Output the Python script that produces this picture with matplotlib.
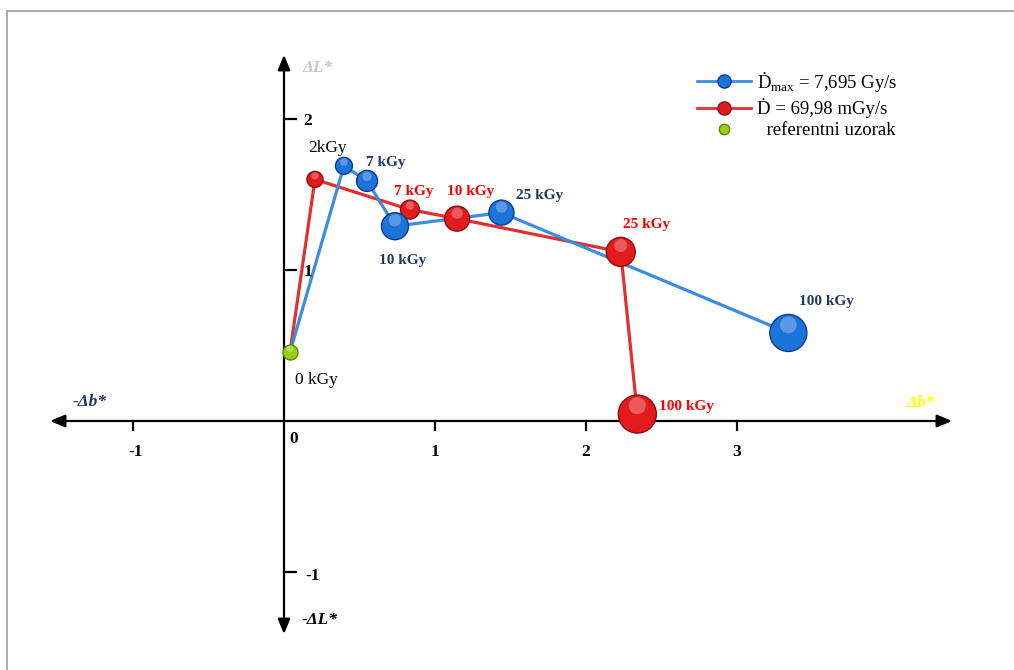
import matplotlib
matplotlib.use("Agg")
import matplotlib.pyplot as plt
from matplotlib.lines import Line2D
import matplotlib.transforms as mtransforms

# ---------------- data ----------------
ref_point = (0.04, 0.457)          # referentni uzorak (0 kGy)

blue_doses = ["2kGy", "7 kGy", "10 kGy", "25 kGy", "100 kGy"]
blue_db = [0.397, 0.55, 0.735, 1.44, 3.34]
blue_dL = [1.69, 1.59, 1.29, 1.38, 0.583]

red_doses = ["7 kGy", "10 kGy", "25 kGy", "100 kGy"]
red_db = [0.205, 0.834, 1.146, 2.23, 2.34]
red_dL = [1.60, 1.40, 1.34, 1.12, 0.046]

x_ticks = [-1, 0, 1, 2, 3]
y_ticks = [-1, 1, 2]

legend_labels = [r"Ḋ$_{\mathrm{max}}$ = 7,695 Gy/s", "Ḋ = 69,98 mGy/s", "  referentni uzorak"]

# ---------------- style ----------------
SERIF = ["Liberation Serif", "DejaVu Serif"]
plt.rcParams["font.family"] = SERIF
plt.rcParams["mathtext.fontset"] = "custom"
plt.rcParams["mathtext.rm"] = "Liberation Serif"

BLUE_LINE = "#3b8de0"
BLUE_FACE = "#1c74d9"
BLUE_EDGE = "#0b3d8f"
RED_LINE = "#e0302f"
RED_FACE = "#e31b1c"
RED_EDGE = "#8f0c0c"
GREEN_FACE = "#9acc1a"
GREEN_EDGE = "#5b8a00"
NAVY = "#1f3864"

blue_diam = [17, 21, 27, 25, 37]      # px
red_diam = [16, 19, 25, 29, 38]       # px
green_diam = 15

W, H = 1014, 670
fig = plt.figure(figsize=(W / 100, H / 100), dpi=100)
ax = fig.add_axes([0, 0, 1, 1])
PX = 151.0
x0, y0 = 284.0, 421.0
ax.set_xlim(-x0 / PX, (W - x0) / PX)
ax.set_ylim((y0 - H) / PX, y0 / PX)
ax.axis("off")

# figure border (top and left, light grey)
fig.add_artist(Line2D([7 / W, 1.0], [1 - 11 / H, 1 - 11 / H], color="#a6a6a6", lw=1.3))
fig.add_artist(Line2D([7 / W, 7 / W], [0, 1 - 11 / H], color="#a6a6a6", lw=1.3))

# axes with arrows
arrow_kw = dict(arrowstyle="<|-|>,head_length=0.9,head_width=0.38", color="black", lw=1.6,
                shrinkA=0, shrinkB=0)
ax.annotate("", xy=((952 - x0) / PX, 0), xytext=((50 - x0) / PX, 0), arrowprops=arrow_kw)
ax.annotate("", xy=(0, (y0 - 55) / PX), xytext=(0, (y0 - 634) / PX), arrowprops=arrow_kw)

# ticks
tick_len = 9 / PX
for xv in x_ticks:
    if xv == 0:
        continue
    ax.plot([xv, xv], [0, -tick_len], color="black", lw=1.6)
    ax.annotate(str(xv), (xv, 0), xytext=(3 if xv < 0 else 0, -31), textcoords="offset pixels",
                ha="center", va="center", fontsize=12.5, fontweight="bold")
ax.annotate("0", (0, 0), xytext=(10, -18), textcoords="offset pixels",
            ha="center", va="center", fontsize=12.5, fontweight="bold")
for yv in y_ticks:
    ax.plot([0, 12 / PX], [yv, yv], color="black", lw=1.6)
    ax.annotate(str(yv), (0, yv), xytext=(24 if yv > 0 else 29, -2 if yv > 0 else -4),
                textcoords="offset pixels",
                ha="center", va="center", fontsize=12.5, fontweight="bold")

# axis names
ax.text((318 - x0) / PX, (y0 - 68) / PX, "ΔL*", color="#c8c8c8", fontsize=12.5,
        fontweight="bold", style="italic", ha="center", va="center")
ax.text((320 - x0) / PX, (y0 - 620) / PX, "-ΔL*", color="black", fontsize=12.5,
        fontweight="bold", style="italic", ha="center", va="center")
ax.text((90 - x0) / PX, (y0 - 402) / PX, "-Δb*", color=NAVY, fontsize=12.5,
        fontweight="bold", style="italic", ha="center", va="center")
ax.text((921 - x0) / PX, (y0 - 403) / PX, "Δb*", color="#ffff00", fontsize=12.5,
        fontweight="bold", style="italic", ha="center", va="center")

# lines
bx = [ref_point[0]] + blue_db
by = [ref_point[1]] + blue_dL
rx = [ref_point[0]] + red_db
ry = [ref_point[1]] + red_dL
ax.plot(rx, ry, color=RED_LINE, lw=2.3, zorder=2, solid_capstyle="round")
ax.plot(bx, by, color=BLUE_LINE, lw=2.3, zorder=2, solid_capstyle="round")


def spheres(xs, ys, diams, face, edge, z):
    s = [(d * 0.72) ** 2 for d in diams]
    ax.scatter(xs, ys, s=s, c=face, edgecolors=edge, linewidths=1.0, zorder=z)
    # highlight
    for x, y, d in zip(xs, ys, diams):
        tr = mtransforms.offset_copy(ax.transData, fig=fig, x=0, y=d * 0.22 * 0.72, units="points")
        ax.scatter([x], [y], s=(d * 0.45 * 0.72) ** 2, c="white", alpha=0.28,
                   edgecolors="none", transform=tr, zorder=z + 0.1)


spheres(red_db, red_dL, red_diam, RED_FACE, RED_EDGE, 4)
spheres(blue_db, blue_dL, blue_diam, BLUE_FACE, BLUE_EDGE, 4)
spheres([ref_point[0]], [ref_point[1]], [green_diam], GREEN_FACE, GREEN_EDGE, 5)

# labels
blue_off = [(-16, 18), (19, 18), (8, -34), (38, 17), (38, 31)]
for (x, y, lab, off) in zip(blue_db, blue_dL, blue_doses, blue_off):
    if lab == "2kGy":
        ax.annotate(lab, (x, y), xytext=off, textcoords="offset pixels", ha="center",
                    va="center", fontsize=12.5, color="black")
    else:
        ax.annotate(lab, (x, y), xytext=off, textcoords="offset pixels", ha="center",
                    va="center", fontsize=11, fontweight="bold", color=NAVY)
red_off = [(4, 18), (14, 27), (26, 27), (49, 8)]
for (x, y, lab, off) in zip(red_db[1:], red_dL[1:], red_doses, red_off):
    ax.annotate(lab, (x, y), xytext=off, textcoords="offset pixels", ha="center",
                va="center", fontsize=11, fontweight="bold", color="#ff0000")
ax.annotate("0 kGy", ref_point, xytext=(26, -28), textcoords="offset pixels", ha="center",
            va="center", fontsize=12.5, color="black")

# legend
handles = [
    Line2D([], [], color=BLUE_LINE, lw=2.0, marker="o", markersize=9.5,
           markerfacecolor=BLUE_FACE, markeredgecolor=BLUE_EDGE),
    Line2D([], [], color=RED_LINE, lw=2.0, marker="o", markersize=9.5,
           markerfacecolor=RED_FACE, markeredgecolor=RED_EDGE),
    Line2D([], [], color="none", lw=0, marker="o", markersize=7.5,
           markerfacecolor=GREEN_FACE, markeredgecolor=GREEN_EDGE),
]
fig.legend(handles, legend_labels, loc="upper left", bbox_to_anchor=(697 / W, 1 - 70 / H),
           frameon=False, fontsize=13.5, handlelength=2.9, handletextpad=0.3,
           labelspacing=0.22, borderpad=0, borderaxespad=0)

fig.savefig("out.png", dpi=100)
